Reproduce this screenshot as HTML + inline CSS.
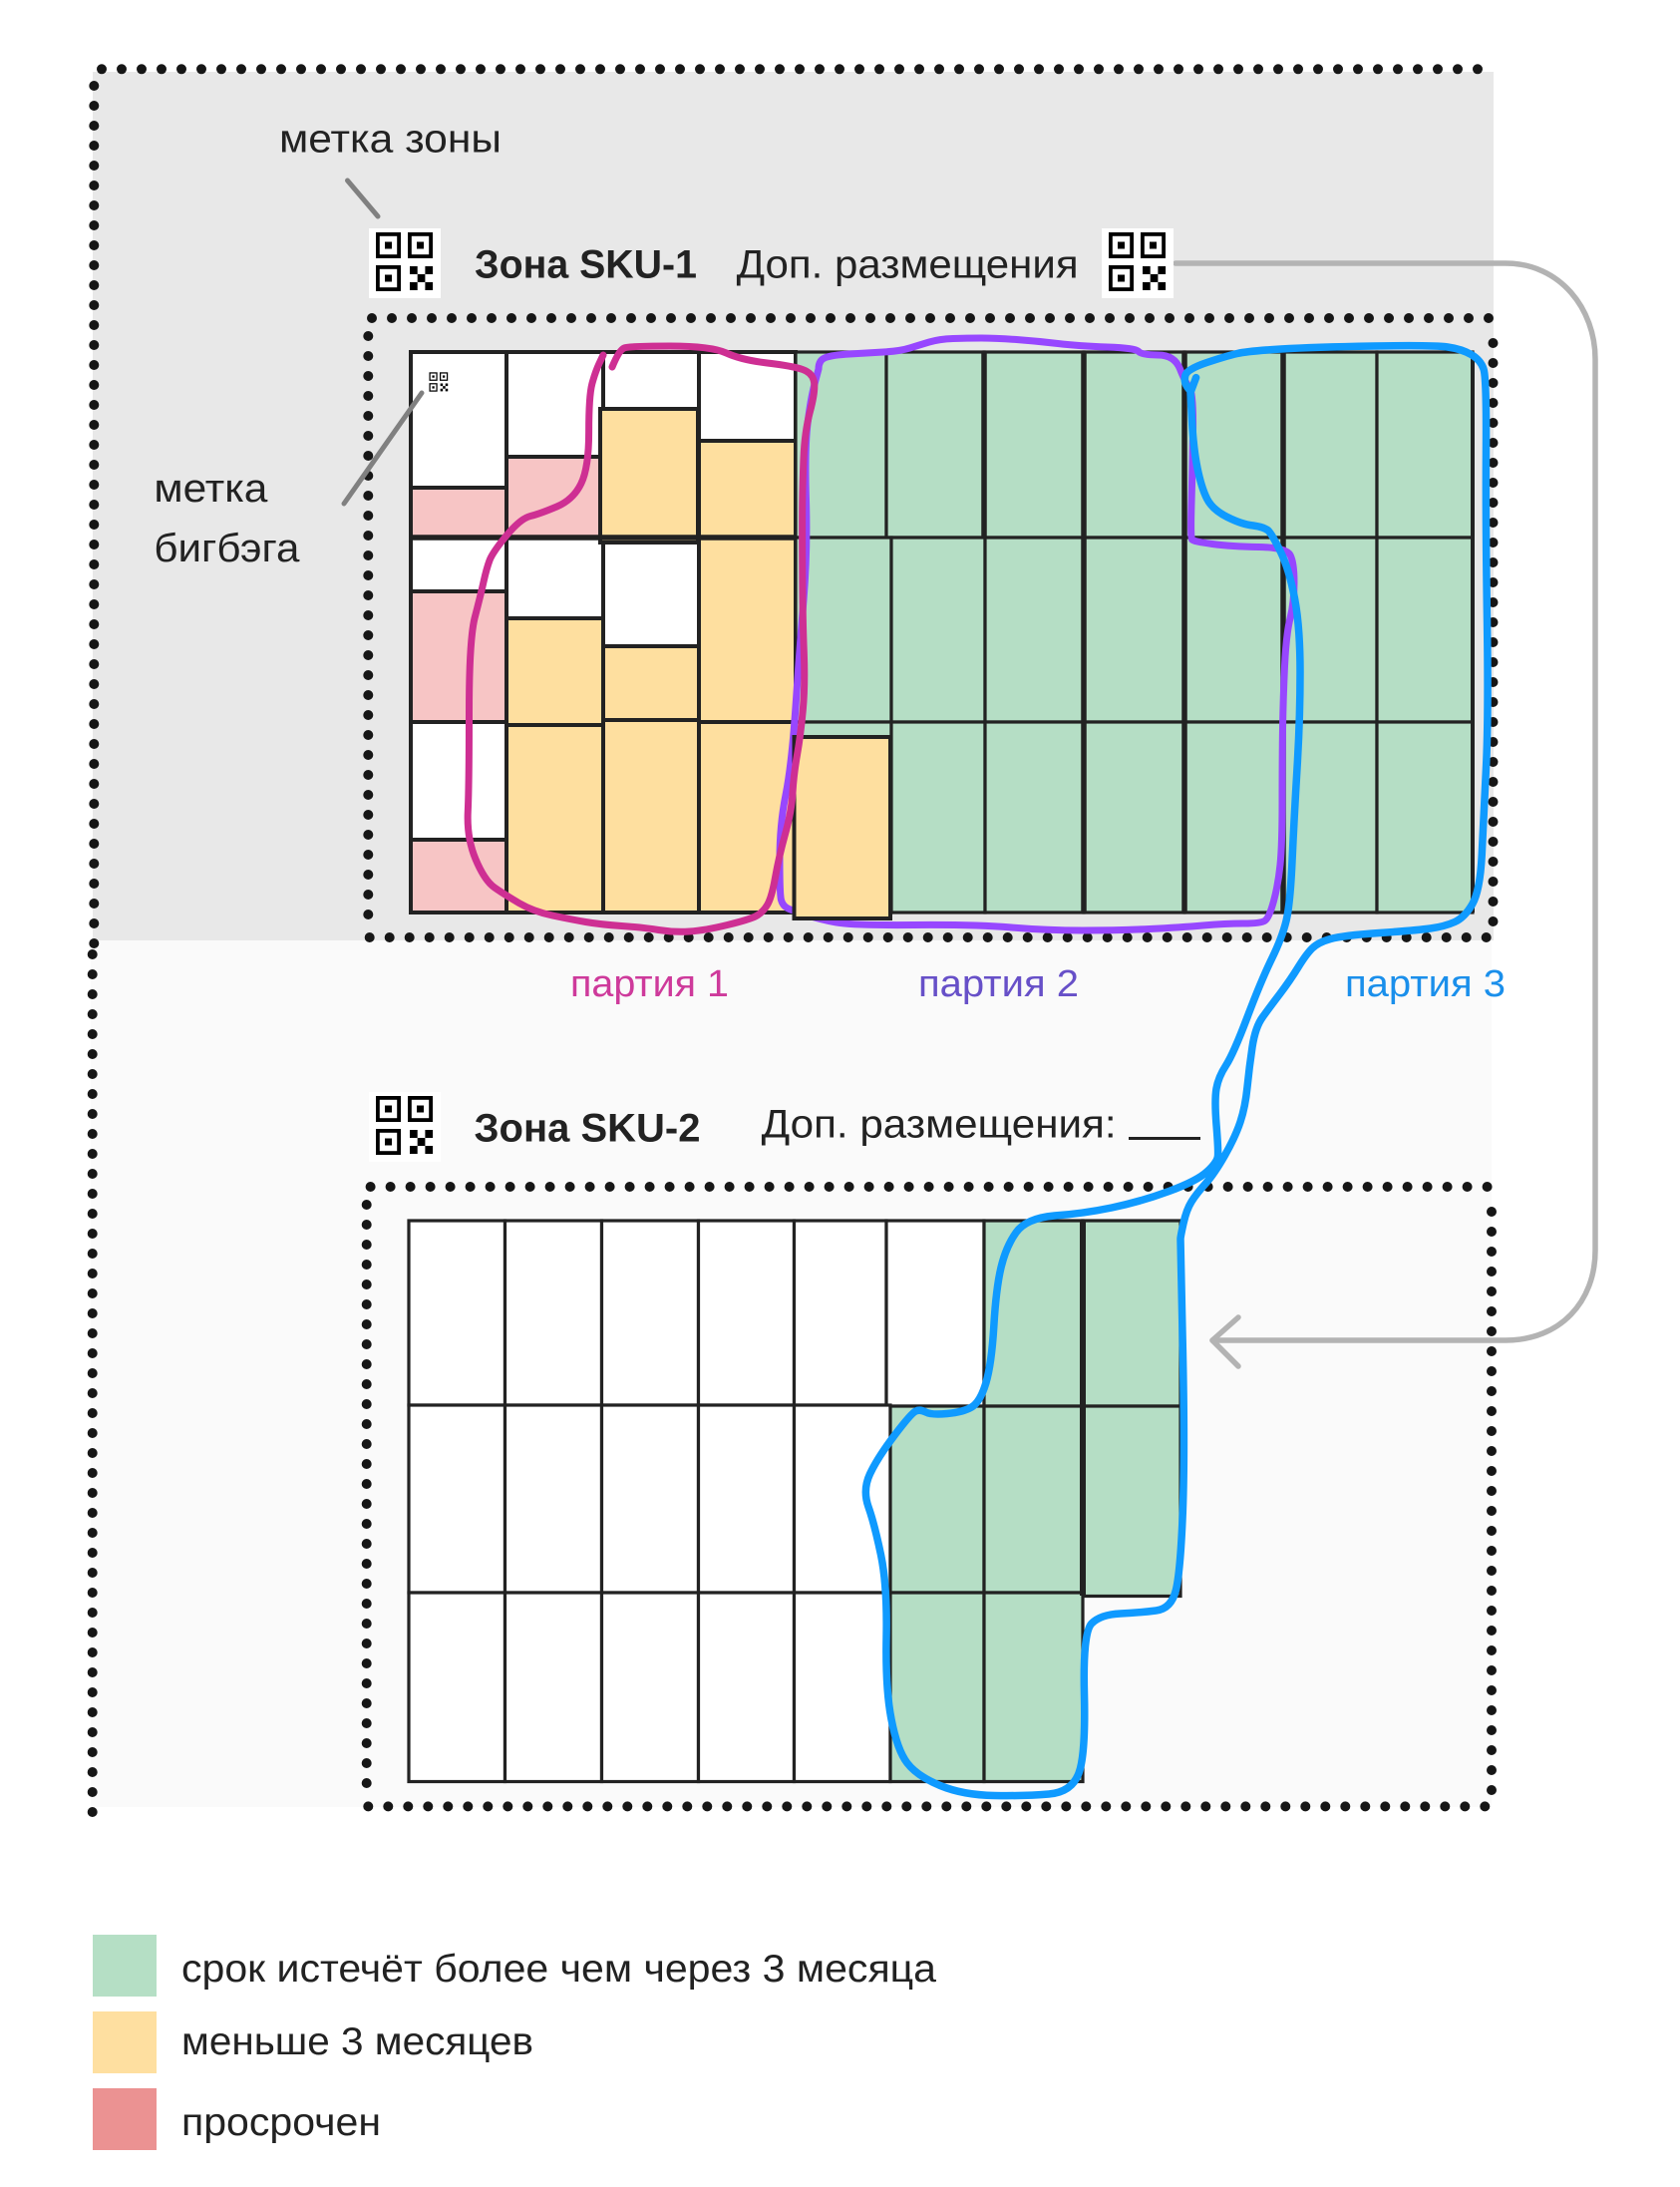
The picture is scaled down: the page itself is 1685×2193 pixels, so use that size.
<!DOCTYPE html>
<html lang="ru"><head><meta charset="utf-8"><title>Зоны SKU</title>
<style>
html,body{margin:0;padding:0;background:#fff}
svg{display:block}
text{font-family:"Liberation Sans",sans-serif;fill:#222}
.c rect{stroke:#222;stroke-width:4}
.t rect{stroke:#222;stroke-width:3.2}
.w{fill:#fff}.r{fill:#F7C5C5}.o{fill:#FEDF9F}.g{fill:#B5DEC5}
.d{fill:none;stroke:#161616;stroke-width:10;stroke-linecap:round;stroke-dasharray:0 20}
.h{fill:none;stroke-linejoin:round;stroke-linecap:round;stroke-width:7}
</style></head><body>
<svg xmlns="http://www.w3.org/2000/svg" width="1685" height="2193" viewBox="0 0 1685 2193">
<defs>
<symbol id="qr" viewBox="0 0 72 70">
<rect width="72" height="70" fill="#fff"/>
<g fill="none" stroke="#000" stroke-width="3.8">
<rect x="8.9" y="5.9" width="21.2" height="22.2"/>
<rect x="40.9" y="5.9" width="21.2" height="22.2"/>
<rect x="8.9" y="38.9" width="21.2" height="22.2"/>
</g>
<g fill="#000">
<rect x="16" y="13.5" width="7" height="7"/><rect x="48" y="13.5" width="7" height="7"/><rect x="16" y="46.5" width="7" height="7"/>
<rect x="41" y="38" width="7.7" height="8"/><rect x="56.4" y="38" width="7.7" height="8"/><rect x="48.7" y="46" width="7.7" height="8"/><rect x="41" y="54" width="7.7" height="8"/><rect x="56.4" y="54" width="7.7" height="8"/>
</g>
</symbol>
</defs>

<rect x="93" y="72" width="1405" height="871" fill="#E8E8E8"/>
<rect x="91" y="943" width="1405" height="869" fill="#FAFAFA"/>

<path class="d" d="M102 69.3H1483"/>
<path class="d" d="M94.3 86V947"/>
<path class="d" d="M92.7 957V1818"/>

<path class="d" d="M373 319H1494"/>
<path class="d" d="M369.3 337V918"/>
<path class="d" d="M1497.5 344V925"/>
<path class="d" d="M370.7 940H1492"/>

<path class="d" d="M371.6 1190H1493"/>
<path class="d" d="M367.7 1208V1789"/>
<path class="d" d="M1496 1215V1796"/>
<path class="d" d="M369.3 1811.4H1490"/>

<!-- grid 1 -->
<g class="c">
<rect class="w" x="412" y="353" width="96" height="136"/><rect class="r" x="412" y="489" width="96" height="50"/>
<rect class="w" x="412" y="539" width="96" height="54"/><rect class="r" x="412" y="593" width="96" height="131"/>
<rect class="w" x="412" y="724" width="96" height="118"/><rect class="r" x="412" y="842" width="96" height="73"/>
<rect class="w" x="508" y="353" width="97" height="105"/><rect class="r" x="508" y="458" width="97" height="81"/>
<rect class="w" x="508" y="539" width="97" height="81"/><rect class="o" x="508" y="620" width="97" height="107"/><rect class="o" x="508" y="727" width="97" height="188"/>
<rect class="w" x="605" y="353" width="96" height="57"/>
<rect class="w" x="605" y="544" width="96" height="104"/><rect class="o" x="605" y="648" width="96" height="74"/><rect class="o" x="605" y="722" width="96" height="193"/>
<rect class="o" x="602" y="410" width="98" height="134"/>
<rect class="w" x="701" y="353" width="97" height="89"/><rect class="o" x="701" y="442" width="97" height="97"/><rect class="o" x="701" y="539" width="97" height="185"/><rect class="o" x="701" y="724" width="97" height="191"/>
</g>
<g class="t">
<rect class="g" x="798" y="353" width="91" height="186"/><rect class="g" x="889" y="353" width="98" height="186"/><rect class="g" x="987" y="353" width="100" height="186"/><rect class="g" x="1087" y="353" width="101" height="186"/><rect class="g" x="1188" y="353" width="99" height="186"/><rect class="g" x="1287" y="353" width="94" height="186"/><rect class="g" x="1381" y="353" width="96" height="186"/>
<rect class="g" x="798" y="539" width="96" height="185"/><rect class="g" x="894" y="539" width="94" height="185"/><rect class="g" x="988" y="539" width="99" height="185"/><rect class="g" x="1087" y="539" width="101" height="185"/><rect class="g" x="1188" y="539" width="99" height="185"/><rect class="g" x="1287" y="539" width="94" height="185"/><rect class="g" x="1381" y="539" width="96" height="185"/>
<rect class="g" x="798" y="724" width="96" height="191"/><rect class="g" x="894" y="724" width="94" height="191"/><rect class="g" x="988" y="724" width="99" height="191"/><rect class="g" x="1087" y="724" width="101" height="191"/><rect class="g" x="1188" y="724" width="99" height="191"/><rect class="g" x="1287" y="724" width="94" height="191"/><rect class="g" x="1381" y="724" width="96" height="191"/>
</g>
<path d="M987 353V539M1087 353V915M1188 353V915M1287 353V915M412 539H798" fill="none" stroke="#222" stroke-width="5.5"/>
<path d="M412 353V915M1477 353V915" fill="none" stroke="#222" stroke-width="4"/>

<use href="#qr" x="428" y="372" width="24" height="23"/>

<!-- purple -->
<path class="h" stroke="#9747FF" d="M821 370Q821 361 828 358.5Q835 356 852 355Q869 354 886 353Q903 352 912.5 349Q922 346 932 343Q942 340 956 339.5Q970 339 984.5 339Q999 339 1019.5 340.5Q1040 342 1061 344.5Q1082 347 1110.5 348Q1139 349 1142 352.5Q1145 356 1161.5 356Q1178 356 1183.5 370Q1189 384 1193 388.5Q1197 393 1196.5 431.5Q1196 470 1195 504.5Q1194 539 1195.5 541Q1197 543 1216 545.5Q1235 548 1262.5 548.5Q1290 549 1294 556.5Q1298 564 1298 584Q1298 604 1294 620Q1290 636 1288.5 668Q1287 700 1286.5 730Q1286 760 1286 803.5Q1286 847 1284 867Q1282 887 1277.5 903.5Q1273 920 1269 923Q1265 926 1247 926Q1229 926 1206.5 928Q1184 930 1153 931.5Q1122 933 1086 933Q1050 933 1014.5 930Q979 927 916.5 927.5Q854 928 838.5 925Q823 922 808.5 917.5Q794 913 789.5 910.5Q785 908 783.5 902.5Q782 897 782 862Q782 827 788 797Q794 767 798 708.5Q802 650 806 601.5Q810 553 808.5 501.5Q807 450 810 425Q813 400 817 385L821 370"/>

<!-- orange box over purple -->
<rect x="796.5" y="739" width="96.5" height="182" fill="#FEDF9F" stroke="#222" stroke-width="4"/>

<!-- magenta -->
<path class="h" stroke="#CE2F93" d="M614 368Q621 351 626 349Q631 347 672 347Q713 347 728.5 354Q744 361 769.5 364Q795 367 805 370.5Q815 374 816.5 383Q818 392 812.5 412.5Q807 433 806 459.5Q805 486 804.8 503Q804.5 520 804.8 570Q805 620 806.3 653.5Q807.6 687 805.3 712Q803 737 799.5 757Q796 777 795 795Q794 813 787.5 836.5Q781 860 777.5 880Q774 900 769.5 907.5Q765 915 758.5 918.5Q752 922 729.5 927.5Q707 933 691.5 934Q676 935 660.5 932.5Q645 930 623.5 928.5Q602 927 587.5 924.5Q573 922 554 918Q535 914 520.5 905.5Q506 897 496 890Q486 883 477 861.5Q468 840 469.3 813.5Q470.5 787 470.5 715Q470.5 643 476 620Q482 597 485 583.5Q488 570 491 562Q494 554 508 537Q522 520 532 517.5Q542 515 558.5 508Q575 501 582.8 485Q590.6 469 590.6 433Q590.6 397 593.8 385Q597 373 601 364.5L605 356"/>

<!-- grid 2 -->
<g class="t">
<rect class="w" x="410" y="1224" width="96.5" height="185"/><rect class="w" x="506.5" y="1224" width="97" height="185"/><rect class="w" x="603.5" y="1224" width="97" height="185"/><rect class="w" x="700.5" y="1224" width="96" height="185"/><rect class="w" x="796.5" y="1224" width="92.5" height="185"/><rect class="w" x="889" y="1224" width="98" height="186"/>
<rect class="w" x="410" y="1409" width="96.5" height="188"/><rect class="w" x="506.5" y="1409" width="97" height="188"/><rect class="w" x="603.5" y="1409" width="97" height="188"/><rect class="w" x="700.5" y="1409" width="96" height="188"/><rect class="w" x="796.5" y="1409" width="96.5" height="188"/>
<rect class="w" x="410" y="1597" width="96.5" height="189.5"/><rect class="w" x="506.5" y="1597" width="97" height="189.5"/><rect class="w" x="603.5" y="1597" width="97" height="189.5"/><rect class="w" x="700.5" y="1597" width="96" height="189.5"/><rect class="w" x="796.5" y="1597" width="96.5" height="189.5"/>
<rect class="g" x="987" y="1224" width="99" height="186"/><rect class="g" x="1086" y="1224" width="98" height="186"/>
<rect class="g" x="893" y="1410" width="94" height="187"/><rect class="g" x="987" y="1410" width="99" height="187"/><rect class="g" x="1086" y="1410" width="98" height="190.5"/>
<rect class="g" x="893" y="1597" width="94" height="189.5"/><rect class="g" x="987" y="1597" width="99" height="189.5"/>
</g>
<path d="M1086 1224V1600" fill="none" stroke="#222" stroke-width="6"/>

<!-- connector -->
<path d="M1179 264H1510C1565 264 1600 310 1600 360V1254C1600 1305 1565 1344 1510 1344H1216" fill="none" stroke="#B3B3B3" stroke-width="5.5" stroke-linecap="round"/>
<path d="M1242 1321L1216 1344 1242 1370" fill="none" stroke="#B3B3B3" stroke-width="5.5" stroke-linecap="round" stroke-linejoin="round"/>

<!-- blue -->
<path class="h" style="stroke-width:7.5" stroke="#0F9AFF" d="M1199.6 378.6L1195 391Q1194 393 1190.5 387.5Q1187 382 1189 376Q1191 370 1210.5 363.5Q1230 357 1241 354.5Q1252 352 1284.8 350Q1317.6 348 1377.8 347Q1438 346 1452 348Q1466 350 1475.5 355.5Q1485 361 1488 370Q1491 379 1490.5 450Q1490 521 1491.5 620.5Q1493 720 1490.5 770Q1488 820 1486.3 856.5Q1484.5 893 1476.8 906.5Q1469 920 1459 924.5Q1449 929 1434.5 931Q1420 933 1383.5 935.5Q1347 938 1334.5 941.5Q1322 945 1316 951Q1310 957 1302 970Q1294 983 1283.8 996.5Q1273.5 1010 1266.3 1020Q1259 1030 1256 1050Q1253 1070 1251 1090Q1249 1110 1244 1125Q1239 1140 1228.5 1158.5Q1218 1177 1209 1187Q1200 1197 1195 1205Q1190 1213 1187 1226.5Q1184 1240 1184 1242.5Q1184 1245 1186.3 1351Q1188.5 1457.5 1186.3 1516Q1184 1575 1179.5 1594Q1175 1613 1159.5 1615Q1144 1617 1123.8 1618Q1103.5 1619 1094.8 1628Q1086 1637 1087.5 1698Q1089 1759.6 1082 1778Q1075 1797 1052 1799Q1029 1801 997.5 1800.5Q966 1800 943 1790.5Q920 1781 910 1768Q900 1755 894 1724Q888 1693.5 889 1642Q890 1590 883.5 1559Q877 1528 871 1511Q865 1494 872.5 1478Q880 1462 897 1439.5Q914 1417 918.5 1415Q923 1413 928.5 1416Q934 1419 950 1417.5Q966 1416 974.5 1411Q983 1406 988.8 1387Q994.5 1368 996.8 1330Q999 1292 1004 1271Q1009 1250 1019 1236Q1029 1221.6 1057.5 1219Q1086 1217 1115 1211Q1144 1205 1172.5 1194.5Q1201 1184 1211 1174.5Q1221 1165 1221.5 1159Q1222 1153 1220 1128Q1218 1103 1220 1091.5Q1222 1080 1229.5 1068.5Q1237 1057 1251 1020Q1265 983 1275.5 961.5Q1286 940 1290 923.5Q1294 907 1296 863.5Q1298 820 1301 770Q1304 720 1304 674Q1304 628.6 1298.5 600Q1293 571 1284.5 553.5Q1276 536 1272 532Q1268 528.6 1257 527Q1246 526 1231 518.5Q1216 511 1210.5 500Q1205 489 1201 469.5Q1197 450 1195.5 421.5L1194 393"/>

<!-- leader lines -->
<path d="M348.5 181L379 217M423 394L345 505" fill="none" stroke="#808080" stroke-width="5" stroke-linecap="round"/>

<!-- QR -->
<use href="#qr" x="370" y="229" width="72" height="70"/>
<use href="#qr" x="1105" y="229" width="72" height="70"/>
<use href="#qr" x="370" y="1095" width="72" height="70"/>

<!-- text -->
<text x="280" y="152.5" font-size="39.5" textLength="223" lengthAdjust="spacingAndGlyphs">метка зоны</text>
<text x="154.4" y="503" font-size="39.5" textLength="114" lengthAdjust="spacingAndGlyphs">метка</text>
<text x="154.4" y="563" font-size="39.5" textLength="146" lengthAdjust="spacingAndGlyphs">бигбэга</text>
<text x="476" y="278.6" font-size="39.5" font-weight="700" textLength="223" lengthAdjust="spacingAndGlyphs">Зона SKU-1</text>
<text x="738.6" y="278.6" font-size="39.5" textLength="343" lengthAdjust="spacingAndGlyphs">Доп. размещения</text>
<text x="475.5" y="1144.6" font-size="39.5" font-weight="700" textLength="227" lengthAdjust="spacingAndGlyphs">Зона SKU-2</text>
<text x="763.6" y="1140.4" font-size="39.5" textLength="356" lengthAdjust="spacingAndGlyphs">Доп. размещения:</text>
<rect x="1132" y="1140" width="72" height="3" fill="#222"/>
<text x="572" y="999" font-size="38" textLength="159" lengthAdjust="spacingAndGlyphs" style="fill:#CE3A9B">партия 1</text>
<text x="921" y="999" font-size="38" textLength="161" lengthAdjust="spacingAndGlyphs" style="fill:#6750C8">партия 2</text>
<text x="1349" y="999" font-size="38" textLength="161" lengthAdjust="spacingAndGlyphs" style="fill:#1A8FEB">партия 3</text>

<!-- legend -->
<rect x="93" y="1940" width="64" height="62" fill="#B5DFC5"/>
<rect x="93" y="2017" width="64" height="62" fill="#FEDFA0"/>
<rect x="93" y="2094" width="64" height="62" fill="#EB9292"/>
<text x="182" y="1987" font-size="39" textLength="757" lengthAdjust="spacingAndGlyphs">срок истечёт более чем через 3 месяца</text>
<text x="182" y="2060" font-size="39" textLength="353" lengthAdjust="spacingAndGlyphs">меньше 3 месяцев</text>
<text x="182" y="2141" font-size="39" textLength="200" lengthAdjust="spacingAndGlyphs">просрочен</text>
</svg>
</body></html>
